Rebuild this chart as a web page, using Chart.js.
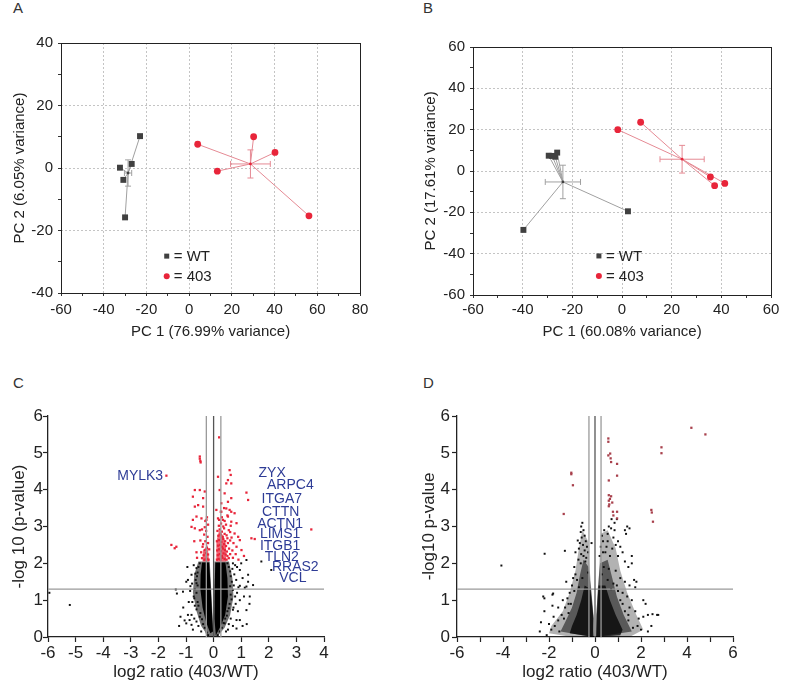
<!DOCTYPE html>
<html>
<head>
<meta charset="utf-8">
<script src="https://cdn.jsdelivr.net/npm/chart.js@4.4.0/dist/chart.umd.min.js"></script>
<style>
body { margin: 0; background: #fff; width: 787px; height: 692px; position: relative; overflow: hidden;
       font-family: 'Liberation Sans', Arial, sans-serif; }
.box { position: absolute; }
.lbl { position: absolute; font-size: 15px; line-height: 15px; color: #333; }
</style>
</head>
<body>
<div class="lbl" style="left:13px;top:0px">A</div>
<div class="lbl" style="left:423px;top:0px">B</div>
<div class="lbl" style="left:13px;top:375px">C</div>
<div class="lbl" style="left:423px;top:375px">D</div>
<div class="box" style="left:0;top:0;width:393px;height:345px"><canvas id="cA"></canvas></div>
<div class="box" style="left:393px;top:0;width:394px;height:345px"><canvas id="cB"></canvas></div>
<div class="box" style="left:0;top:345px;width:393px;height:347px"><canvas id="cC"></canvas></div>
<div class="box" style="left:393px;top:345px;width:394px;height:347px"><canvas id="cD"></canvas></div>
<script>
// ---- PCA, panel A ----
const aWT = [[-23.0, 10.2], [-26.9, 1.3], [-32.4, 0.1], [-30.8, -3.8], [-30.0, -15.8]];
const a403 = [[4.0, 7.6], [13.2, -1.0], [30.2, 10.0], [40.2, 5.0], [56.1, -15.3]];
const aWTMean = [-28.6, -1.6], aWTErr = [1.7, 4.2];
const a403Mean = [28.7, 1.3], a403Err = [9.3, 4.5];
const aLegend = [-10.5, -28.2, -34.6]; // x, y of WT row, y of 403 row

// ---- PCA, panel B ----
const bWT = [[-29.5, 7.4], [-28.1, 7.3], [-26.9, 6.9], [-26.1, 8.9], [-39.7, -28.5], [2.4, -19.5]];
const b403 = [[-1.7, 20.0], [7.5, 23.6], [35.6, -2.9], [37.3, -7.1], [41.4, -6.0]];
const bWTMean = [-23.8, -5.3], bWTErr = [7.1, 8.1];
const b403Mean = [24.2, 5.7], b403Err = [8.9, 6.7];
const bLegend = [-9.3, -41.1, -50.8];

// ---- volcano thresholds ----
const fcCut = [-0.263, 0, 0.263];
const pCut = 1.3;

// ---- volcano, panel C: dense cloud outlines (outer = sparser, core = solid) ----
const cOuterL = [[-0.55,2.05],[-0.14,2.05],[-0.08,1.2],[-0.02,0.3],[0,0],[-0.2,0.03],[-0.45,0.3],[-0.62,0.7],[-0.75,1.2],[-0.7,1.7]];
const cCoreL = [[-0.42,2.02],[-0.16,2.02],[-0.11,1.4],[-0.06,0.7],[-0.02,0.15],[-0.12,0.1],[-0.27,0.4],[-0.4,0.8],[-0.48,1.3],[-0.47,1.7]];
const cOuterR = [[0.03,2.05],[0.56,2.05],[0.68,1.6],[0.72,1.1],[0.6,0.6],[0.4,0.25],[0.15,0.03],[0.01,0],[0.01,0.8]];
const cCoreR = [[0.06,2.02],[0.43,2.02],[0.5,1.6],[0.52,1.1],[0.42,0.6],[0.26,0.3],[0.08,0.05],[0.03,0.5],[0.04,1.3]];
const cRedCoreL = [[-0.16,2.05],[-0.4,2.05],[-0.38,2.35],[-0.22,2.5]];
const cRedCoreR = [[0.1,2.05],[0.45,2.05],[0.45,2.5],[0.35,2.75],[0.2,2.9],[0.1,2.6]];
const cBlack = [
  [-5.21,0.87],[-5.95,1.2],[-1.37,1.29],[-1.33,1.18],[-1.11,1.23],[-0.99,1.5],[-0.8,1.69],[-0.62,1.87],
  [-0.93,0.6],[-0.87,0.46],[-0.62,0.42],[-0.99,0.37],[-0.8,0.33],[-1.05,0.45],[-0.75,0.2],[-1.1,0.8],[-0.95,1.9],
  [-0.93,1.55],[-0.62,1.46],[-0.78,1.45],[-0.85,1.25],[-0.72,1.1],[-0.9,0.95],[-0.68,0.85],[-0.8,0.6],
  [-0.5,2.0],[-0.55,1.9],[-0.58,1.75],[-0.6,1.65],[-0.65,1.55],[-0.58,1.4],[-0.68,1.3],[-0.62,1.2],[-0.7,1.05],
  [-0.58,0.95],[-0.55,0.85],[-0.62,0.75],[-0.48,0.65],[-0.5,0.55],[-0.42,0.48],[-0.38,0.35],[-0.32,0.25],[-0.25,0.12],
  [0.5,2.0],[0.55,1.9],[0.6,1.78],[0.62,1.65],[0.66,1.5],[0.6,1.38],[0.7,1.28],[0.62,1.15],[0.65,1.02],
  [0.58,0.9],[0.55,0.78],[0.5,0.7],[0.48,0.58],[0.42,0.5],[0.36,0.38],[0.3,0.25],[0.22,0.15],
  [0.68,1.85],[0.75,1.7],[0.82,1.55],[0.9,1.35],[0.78,1.1],[0.95,1.0],[0.72,0.8],[0.83,0.46],[0.7,0.74],
  [0.95,0.46],[0.83,0.23],[0.4,0.37],[1.19,0.73],[0.95,1.39],[1.13,1.34],[1.31,1.1],[1.25,1.69],[1.19,1.37],
  [1.43,1.41],[0.7,2.0],[0.95,1.82],[1.19,2.09],[1.0,2.0],[0.85,1.9],[1.05,1.6],[1.25,1.5],[1.1,1.1],
  [0.7,0.3],[1.3,0.9],[1.73,2.05],[2.09,1.82],[0.45,0.15],[-0.2,0.05],[0.15,0.05],
  [-0.72,1.95],[-0.66,1.72],[-0.84,1.38],[-0.77,0.95],[-0.7,0.5],[-0.55,0.3],[-0.45,0.15],[-1.2,0.55],[-1.25,0.3],
  [0.78,1.95],[0.73,1.4],[0.85,1.2],[0.8,0.9],[0.62,0.5],[0.55,0.35],[0.52,0.2],[1.05,0.3],[1.2,0.35],[0.88,0.7]
];
const cRed = [
  [-0.5,4.9],[-0.5,4.84],[-0.48,4.78],[-0.47,4.74],[-1.71,4.38],[0.2,5.42],[0.16,4.35],[0.58,4.53],[0.62,4.4],
  [0.52,4.26],[0.46,4.17],[0.64,4.17],[-0.5,3.99],[-0.68,3.99],[-0.32,3.95],[0.22,3.99],[0.4,3.9],[-0.75,3.81],
  [-0.38,3.77],[0.64,3.77],[0.52,3.67],[0.28,3.63],[1.19,3.92],[1.25,3.72],[-0.68,3.54],[-0.56,3.58],[-0.38,3.54],
  [0.1,3.45],[0.28,3.4],[0.46,3.49],[0.64,3.4],[0.76,3.36],[-0.75,3.18],[-0.62,3.27],[-0.44,3.22],[-0.26,3.18],
  [0.16,3.22],[0.34,3.18],[0.52,3.27],[0.64,3.13],[0.83,3.09],[-0.8,2.99],[-0.68,2.95],[-0.5,2.9],[-0.32,2.98],
  [0.76,2.81],[0.89,2.72],[0.95,2.63],[0.83,2.45],[1.01,2.36],[1.37,2.68],[1.49,2.66],[-1.53,2.5],[-1.41,2.41],
  [-1.35,2.45],[3.54,2.92],[0.7,2.15],[0.8,2.25],[0.9,2.1],[1.1,2.2],[0.68,2.35],[0.72,2.55],[0.65,2.7],[0.6,2.85],
  [-0.7,2.6],[-0.62,2.3],[-0.6,2.15],
  [0.12,2.1],[0.18,2.12],[0.25,2.1],[0.32,2.15],[0.4,2.12],[0.47,2.1],[0.55,2.14],
  [0.15,2.22],[0.22,2.25],[0.3,2.2],[0.36,2.27],[0.44,2.24],[0.5,2.2],[0.6,2.25],
  [0.13,2.35],[0.2,2.38],[0.27,2.33],[0.34,2.4],[0.41,2.36],[0.48,2.32],[0.56,2.4],
  [0.16,2.48],[0.24,2.5],[0.31,2.45],[0.38,2.52],[0.45,2.47],[0.52,2.55],
  [0.12,2.6],[0.2,2.63],[0.28,2.58],[0.35,2.66],[0.42,2.6],[0.5,2.68],[0.6,2.62],
  [0.17,2.75],[0.25,2.78],[0.33,2.72],[0.4,2.8],[0.47,2.76],[0.14,2.88],[0.22,2.92],[0.3,2.86],[0.38,2.95],[0.55,2.9],
  [0.19,3.02],[0.27,3.08],[0.35,3.0],[0.45,3.05],[0.62,3.02],[0.2,3.18],[0.3,3.25],[0.4,3.15],[0.5,3.3],
  [0.26,3.4],[0.38,3.5],[0.58,3.45],
  [-0.18,2.1],[-0.25,2.12],[-0.33,2.1],[-0.42,2.14],[-0.2,2.24],[-0.28,2.28],[-0.36,2.22],[-0.45,2.3],
  [-0.16,2.38],[-0.24,2.42],[-0.32,2.36],[-0.4,2.45],[-0.2,2.55],[-0.3,2.6],[-0.38,2.52],[-0.48,2.62],
  [-0.22,2.72],[-0.34,2.78],[-0.27,2.88],[-0.42,2.92],[-0.2,3.05],[-0.3,3.15],[-0.24,3.25]
];
const cGenes = ['MYLK3','ZYX','ARPC4','ITGA7','CTTN','ACTN1','LIMS1','ITGB1','TLN2','RRAS2','VCL'];
const cGeneX = [-2.66, 2.12, 2.78, 2.47, 2.43, 2.41, 2.41, 2.41, 2.47, 2.96, 2.87];
const cGeneY = [4.38, 4.45, 4.11, 3.74, 3.40, 3.07, 2.80, 2.48, 2.18, 1.89, 1.59];

// ---- volcano, panel D: cloud outlines, sparse to dense ----
const dOuterL = [[-0.3,2.6],[-0.55,2.9],[-0.7,2.4],[-0.85,1.8],[-1.1,1.2],[-1.4,0.7],[-1.9,0.3],[-2.0,0.1],[-1.0,0],[-0.1,0],[-0.05,0.5],[-0.15,1.2],[-0.25,2.0]];
const dMidL = [[-0.28,1.9],[-0.5,2.1],[-0.65,1.7],[-0.8,1.2],[-1.0,0.8],[-1.3,0.4],[-1.5,0.15],[-0.1,0],[-0.06,0.5],[-0.14,1.1]];
const dInnerL = [[-0.2,1.3],[-0.45,1.4],[-0.6,1.0],[-0.8,0.6],[-1.0,0.3],[-1.1,0.1],[-0.05,0],[-0.08,0.6]];
const dOuterR = [[0.25,2.8],[0.55,2.9],[0.9,2.4],[1.1,1.8],[1.4,1.2],[1.8,0.6],[2.1,0.2],[1.5,0],[0.05,0],[0.05,0.6],[0.15,1.4]];
const dMidR = [[0.22,2.0],[0.55,2.1],[0.75,1.6],[0.95,1.1],[1.25,0.6],[1.6,0.15],[0.05,0],[0.06,0.6],[0.12,1.3]];
const dInnerR = [[0.15,1.4],[0.45,1.4],[0.65,1.0],[0.9,0.6],[1.2,0.2],[1.1,0.05],[0.05,0],[0.08,0.6]];
const dBlack = [
  [-0.55,3.1],[-0.6,3.0],[-0.5,2.9],[-0.62,2.85],[-0.45,2.75],[-0.58,2.7],[-0.4,2.6],[-0.66,2.55],[-0.52,2.5],
  [-0.35,2.45],[-0.7,2.4],[-0.45,2.35],[-0.3,2.3],[-0.6,2.25],[-0.75,2.62],[-0.85,2.3],[-1.31,2.34],[-2.19,2.26],
  [-4.07,1.94],[-0.5,2.2],[-0.38,2.15],[-0.72,2.1],
  [-0.9,1.9],[-0.95,1.6],[-1.0,1.4],[-1.1,1.2],[-1.2,1.05],[-0.85,1.7],[-1.05,0.9],[-1.3,0.8],[-1.45,0.6],
  [-1.6,0.45],[-1.75,0.3],[-1.9,0.2],[-2.0,0.35],[-1.55,0.15],[-1.8,0.55],[-2.25,1.1],[-2.2,1.05],[-1.85,1.15],
  [-1.82,1.18],[-2.2,0.7],[-1.85,0.85],[-2.35,0.4],[-1.6,0.8],[-1.4,1.0],[-1.25,1.5],[-1.15,0.65],
  [0.3,2.75],[0.35,2.6],[0.4,2.9],[0.55,2.8],[0.6,3.0],[0.7,2.95],[0.72,3.2],[0.8,2.7],[0.9,2.5],[0.85,2.9],
  [1.0,2.6],[1.1,2.45],[1.3,2.9],[1.4,3.0],[1.5,2.95],[1.35,2.8],[1.2,2.3],[1.0,2.2],[0.75,2.4],[0.5,2.45],
  [0.45,2.3],[0.65,2.2],[1.6,2.2],[1.6,2.0],[1.45,1.9],[1.3,2.05],[0.95,3.2],[0.85,3.1],[0.55,2.6],[0.35,2.3],
  [0.9,1.8],[1.1,1.6],[1.3,1.5],[1.5,1.4],[1.7,1.55],[1.75,1.35],[1.8,1.5],[1.2,1.2],[1.4,1.1],[1.6,1.0],
  [1.5,0.8],[1.75,0.7],[1.9,0.5],[2.1,0.55],[2.2,0.9],[2.3,0.6],[2.5,0.62],[2.7,0.6],[2.75,0.6],[1.85,0.3],
  [1.65,0.25],[2.0,0.2],[1.3,0.7],[1.1,1.0],[0.95,1.4],[2.1,1.0],[1.45,0.45],
  [-0.42,2.05],[-0.62,2.0],[-0.78,1.55],[-0.9,1.25],[-1.15,0.9],[-1.35,0.5],[-0.3,1.75],[-0.55,1.6],[-0.7,1.35],
  [0.38,1.9],[0.6,1.85],[0.8,1.45],[1.0,1.25],[1.2,0.9],[1.45,0.6],[0.3,1.7],[0.55,1.55],[0.7,1.3],
  [-2.4,0.15],[-2.1,0.05],[2.3,0.15],[2.45,0.3],[-0.15,2.55],[0.2,2.2],[0.25,2.45]
];
const dRed = [
  [4.19,5.68],[4.8,5.5],[2.89,5.15],[2.89,4.99],[2.45,3.45],[2.47,3.38],[2.52,3.13],[-1.03,4.46],[-1.03,4.42],
  [-0.96,4.12],[-1.36,3.34],[0.58,5.39],[0.58,5.3],[0.58,4.93],[0.66,4.98],[0.68,4.85],[0.7,4.75],[0.96,4.7],
  [0.96,4.38],[0.6,4.25],[0.6,3.85],[0.65,3.75],[0.7,3.82],[0.6,3.7],[0.75,3.65],[0.62,3.6],[0.78,3.4],[0.96,3.4],
  [0.8,3.3],[0.96,3.22],[0.6,3.55]
];

Chart.defaults.font.family = "'Liberation Sans', Arial, Helvetica, sans-serif";
Chart.defaults.color = '#222';
Chart.defaults.animation = false;

const pt = a => ({x: a[0], y: a[1]});

function pcaChart(id, c) {
  const groups = [
    {pts: c.wt, mean: c.wtMean, err: c.wtErr, fill: '#404040', line: '#a0a0a0', style: 'rect', r: 4.2, name: '= WT'},
    {pts: c.ko, mean: c.koMean, err: c.koErr, fill: '#e8253a', line: '#e58a94', style: 'circle', r: 3.4, name: '= 403'}
  ];
  const datasets = [];
  groups.forEach(g => {
    datasets.push({data: g.pts.map(pt), pointStyle: g.style, pointRadius: g.r, backgroundColor: g.fill, borderWidth: 0, order: 1});
    datasets.push({data: [pt(g.mean)], pointRadius: 1.4, backgroundColor: g.fill, borderWidth: 0, order: 2});
    g.pts.forEach(p => datasets.push({type: 'line', data: [pt(g.mean), pt(p)], borderColor: g.line,
      borderWidth: 1, pointRadius: 0, order: 4}));
  });
  const deco = {
    id: 'deco',
    beforeDatasetsDraw(ch) {
      const ctx = ch.ctx, sx = ch.scales.x, sy = ch.scales.y;
      ctx.save();
      ctx.lineWidth = 1;
      groups.forEach(g => {
        ctx.strokeStyle = g.line;
        const cx = sx.getPixelForValue(g.mean[0]), cy = sy.getPixelForValue(g.mean[1]);
        const x0 = sx.getPixelForValue(g.mean[0] - g.err[0]), x1 = sx.getPixelForValue(g.mean[0] + g.err[0]);
        const y0 = sy.getPixelForValue(g.mean[1] - g.err[1]), y1 = sy.getPixelForValue(g.mean[1] + g.err[1]);
        ctx.beginPath();
        ctx.moveTo(x0, cy); ctx.lineTo(x1, cy);
        ctx.moveTo(x0, cy - 3); ctx.lineTo(x0, cy + 3);
        ctx.moveTo(x1, cy - 3); ctx.lineTo(x1, cy + 3);
        ctx.moveTo(cx, y0); ctx.lineTo(cx, y1);
        ctx.moveTo(cx - 3, y0); ctx.lineTo(cx + 3, y0);
        ctx.moveTo(cx - 3, y1); ctx.lineTo(cx + 3, y1);
        ctx.stroke();
      });
      ctx.restore();
    },
    afterDraw(ch) {
      const ctx = ch.ctx, a = ch.chartArea, sx = ch.scales.x, sy = ch.scales.y;
      ctx.save();
      ctx.strokeStyle = '#222';
      ctx.lineWidth = 1;
      ctx.strokeRect(Math.round(a.left) + 0.5, Math.round(a.top) + 0.5, Math.round(a.right - a.left), Math.round(a.bottom - a.top));
      const lx = sx.getPixelForValue(c.legend[0]);
      ctx.font = "15px 'Liberation Sans', Arial, sans-serif";
      ctx.textBaseline = 'middle';
      groups.forEach((g, i) => {
        const ly = sy.getPixelForValue(c.legend[i + 1]);
        ctx.fillStyle = g.fill;
        if (g.style === 'rect') ctx.fillRect(lx - 2.5, ly - 2.5, 5, 5);
        else { ctx.beginPath(); ctx.arc(lx, ly, 3, 0, Math.PI * 2); ctx.fill(); }
        ctx.fillStyle = '#222';
        ctx.fillText(g.name, lx + 7, ly + 1);
      });
      ctx.restore();
    }
  };
  const grid = {
    color: ctx => (ctx.tick && ctx.tick.value % 20 === 0) ? '#c4c4c4' : 'rgba(0,0,0,0)',
    tickColor: '#333', tickLength: 3, lineWidth: 1
  };
  new Chart(document.getElementById(id), {
    type: 'scatter',
    data: {datasets},
    plugins: [deco],
    options: {
      responsive: true, maintainAspectRatio: false,
      layout: {padding: {top: c.pad[0], right: c.pad[1], left: 0, bottom: 0}},
      plugins: {legend: {display: false}, tooltip: {enabled: false}},
      scales: {
        x: {type: 'linear', min: c.xr[0], max: c.xr[1],
          ticks: {stepSize: 10, autoSkip: false, maxRotation: 0, padding: c.xPad, font: {size: 15},
                  callback: v => v % 20 === 0 ? v : ''},
          grid: grid, border: {display: false, dash: [2, 2]},
          title: {display: true, text: c.xTitle, font: {size: 15}, padding: {top: 0, bottom: 4}},
          afterFit: s => { s.height = c.xH; }},
        y: {type: 'linear', min: c.yr[0], max: c.yr[1],
          ticks: {stepSize: 10, autoSkip: false, padding: 5, font: {size: 15},
                  callback: v => v % 20 === 0 ? v : ''},
          grid: grid, border: {display: false, dash: [2, 2]},
          title: {display: true, text: c.yTitle, font: {size: 15}, padding: {top: c.yTitlePad, bottom: 0}},
          afterFit: s => { s.width = c.yW; }}
      }
    }
  });
}

function volcano(id, c) {
  const datasets = [];
  fcCut.forEach(v => datasets.push({type: 'line', data: [{x: v, y: c.yr[0]}, {x: v, y: c.yr[1]}],
    borderColor: v === 0 ? '#555' : '#9a9a9a', borderWidth: 1.3, pointRadius: 0, order: 0}));
  datasets.push({type: 'line', data: [{x: c.xr[0], y: pCut}, {x: c.xr[1], y: pCut}],
    borderColor: '#9a9a9a', borderWidth: 1.3, pointRadius: 0, order: 0});
  datasets.push({data: c.red.map(pt), pointStyle: 'rect', pointRadius: 1.6, backgroundColor: c.redColor, borderWidth: 0, order: 1});
  datasets.push({data: c.black.map(pt), pointStyle: 'rect', pointRadius: 1.4, backgroundColor: '#111', borderWidth: 0, order: 2});
  const deco = {
    id: 'deco',
    beforeDatasetsDraw(ch) {
      const ctx = ch.ctx, a = ch.chartArea, sx = ch.scales.x, sy = ch.scales.y;
      ctx.save();
      ctx.beginPath(); ctx.rect(a.left, a.top, a.right - a.left, a.bottom - a.top); ctx.clip();
      c.polys.forEach(p => {
        ctx.fillStyle = p.color;
        ctx.beginPath();
        p.pts.forEach((q, i) => {
          const x = sx.getPixelForValue(q[0]), y = sy.getPixelForValue(q[1]);
          if (i) ctx.lineTo(x, y); else ctx.moveTo(x, y);
        });
        ctx.closePath();
        ctx.fill();
      });
      ctx.restore();
    },
    afterDatasetsDraw(ch) {
      if (!c.genes) return;
      const ctx = ch.ctx, sx = ch.scales.x, sy = ch.scales.y;
      ctx.save();
      ctx.font = "14px 'Liberation Sans', Arial, sans-serif";
      ctx.fillStyle = '#2e3c96';
      ctx.textAlign = 'center';
      ctx.textBaseline = 'middle';
      c.genes.forEach((g, i) => ctx.fillText(g, sx.getPixelForValue(c.gx[i]), sy.getPixelForValue(c.gy[i])));
      ctx.restore();
    }
  };
  const grid = {drawOnChartArea: false, tickColor: '#222', tickLength: 5, tickWidth: 1.2};
  new Chart(document.getElementById(id), {
    type: 'scatter',
    data: {datasets},
    plugins: [deco],
    options: {
      responsive: true, maintainAspectRatio: false,
      layout: {padding: {top: 71, right: c.padR, left: 0, bottom: 0}},
      plugins: {legend: {display: false}, tooltip: {enabled: false}},
      scales: {
        x: {type: 'linear', min: c.xr[0], max: c.xr[1],
          ticks: {stepSize: 1, autoSkip: false, maxRotation: 0, padding: 1, font: {size: 17},
                  callback: v => v % c.xStep === 0 ? v : ''},
          grid: grid, border: {color: '#222', width: 1.3},
          title: {display: true, text: 'log2 ratio (403/WT)', font: {size: 17}, padding: {top: 0, bottom: 9}},
          afterFit: s => { s.height = 55; }},
        y: {type: 'linear', min: c.yr[0], max: c.yr[1],
          ticks: {stepSize: 1, autoSkip: false, padding: c.yTickPad, font: {size: 17}},
          grid: grid, border: {color: '#222', width: 1.3},
          title: {display: true, text: c.yTitle, font: {size: 17}, padding: {top: c.yTitlePad, bottom: 0}},
          afterFit: s => { s.width = c.yW; }}
      }
    }
  });
}

pcaChart('cA', {wt: aWT, ko: a403, wtMean: aWTMean, wtErr: aWTErr, koMean: a403Mean, koErr: a403Err,
  legend: aLegend, xr: [-60, 80], yr: [-40, 40], pad: [43, 33], xH: 52, yW: 61, xPad: 5, yTitlePad: 11,
  xTitle: 'PC 1 (76.99% variance)', yTitle: 'PC 2 (6.05% variance)'});
pcaChart('cB', {wt: bWT, ko: b403, wtMean: bWTMean, wtErr: bWTErr, koMean: b403Mean, koErr: b403Err,
  legend: bLegend, xr: [-60, 60], yr: [-60, 60], pad: [47, 16], xH: 50, yW: 80, xPad: 3, yTitlePad: 29,
  xTitle: 'PC 1 (60.08% variance)', yTitle: 'PC 2 (17.61% variance)'});
volcano('cC', {black: cBlack, red: cRed, redColor: '#e8253a',
  polys: [{pts: cOuterL, color: 'rgba(0,0,0,0.55)'}, {pts: cOuterR, color: 'rgba(0,0,0,0.55)'},
          {pts: cCoreL, color: '#000'}, {pts: cCoreR, color: '#000'},
          {pts: cRedCoreL, color: 'rgba(232,37,58,0.7)'}, {pts: cRedCoreR, color: 'rgba(232,37,58,0.7)'}],
  genes: cGenes, gx: cGeneX, gy: cGeneY, xr: [-6, 4], yr: [0, 6], xStep: 1, padR: 69, yW: 48, yTickPad: 0,
  yTitlePad: 9, yTitle: '-log 10 (p-value)'});
volcano('cD', {black: dBlack, red: dRed, redColor: '#a8404c',
  polys: [{pts: dOuterL, color: 'rgba(0,0,0,0.3)'}, {pts: dOuterR, color: 'rgba(0,0,0,0.3)'},
          {pts: dMidL, color: 'rgba(0,0,0,0.5)'}, {pts: dMidR, color: 'rgba(0,0,0,0.5)'},
          {pts: dInnerL, color: 'rgba(0,0,0,0.75)'}, {pts: dInnerR, color: 'rgba(0,0,0,0.75)'}],
  xr: [-6, 6], yr: [0, 6], xStep: 2, padR: 54, yW: 64, yTickPad: 2, yTitlePad: 26, yTitle: '-log10 p-value'});
</script>
</body>
</html>
